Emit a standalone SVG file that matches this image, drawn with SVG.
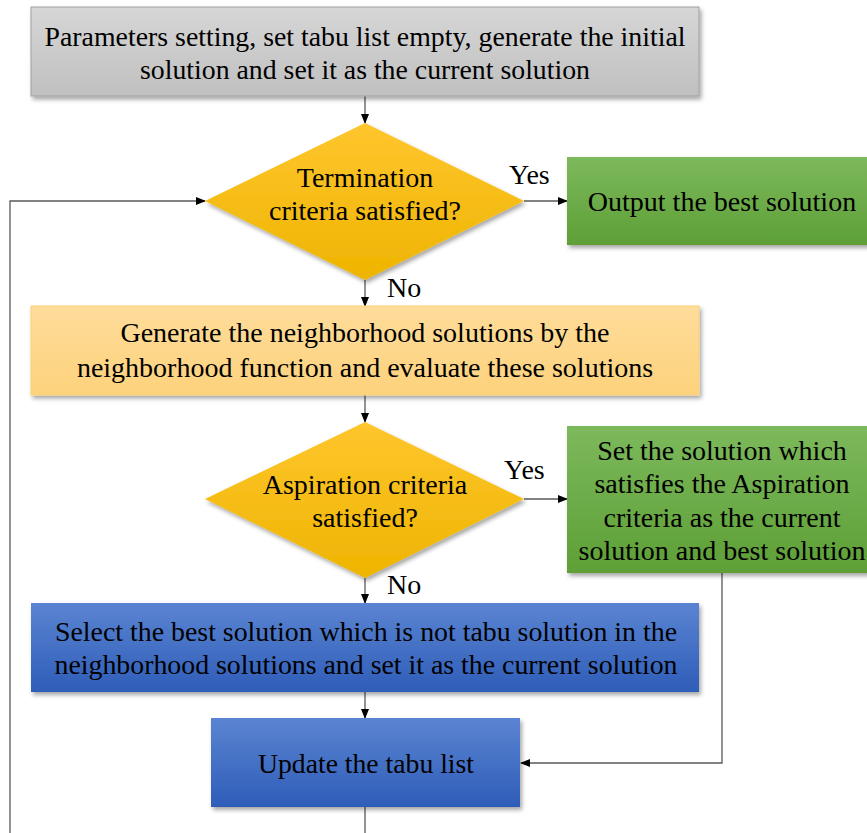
<svg xmlns="http://www.w3.org/2000/svg" width="867" height="833" viewBox="0 0 867 833">
<defs>
<linearGradient id="gGray" x1="0" y1="0" x2="0" y2="1"><stop offset="0" stop-color="#d6d6d6"/><stop offset="1" stop-color="#c0c0c0"/></linearGradient>
<linearGradient id="gGold" x1="0" y1="0" x2="0" y2="1"><stop offset="0" stop-color="#ffc62e"/><stop offset="1" stop-color="#eeb400"/></linearGradient>
<linearGradient id="gGreen" x1="0" y1="0" x2="0" y2="1"><stop offset="0" stop-color="#7cb95c"/><stop offset="1" stop-color="#5e9f36"/></linearGradient>
<linearGradient id="gOrange" x1="0" y1="0" x2="0" y2="1"><stop offset="0" stop-color="#fedc9a"/><stop offset="1" stop-color="#fdd27c"/></linearGradient>
<linearGradient id="gBlue" x1="0" y1="0" x2="0" y2="1"><stop offset="0" stop-color="#5b84d2"/><stop offset="1" stop-color="#2e5db8"/></linearGradient>
<filter id="sh" x="-5%" y="-5%" width="115%" height="125%"><feDropShadow dx="2" dy="3" stdDeviation="2" flood-color="#000" flood-opacity="0.35"/></filter>
<marker id="arr" markerWidth="10" markerHeight="8" refX="9" refY="4" orient="auto" markerUnits="userSpaceOnUse"><path d="M0,0 L10,4 L0,8 Z" fill="#000"/></marker>
<style>
text{font-family:"Liberation Serif","Times New Roman",serif;font-size:28px;fill:#000;text-anchor:middle}
.lbl{text-anchor:start}
.c{fill:none;stroke:#595959;stroke-width:1.3}
</style>
</defs>
<g id="connectors">
<line class="c" x1="365" y1="96" x2="365" y2="123" marker-end="url(#arr)"/>
<line class="c" x1="524" y1="201" x2="567" y2="201" marker-end="url(#arr)"/>
<line class="c" x1="365" y1="280" x2="365" y2="306" marker-end="url(#arr)"/>
<line class="c" x1="365" y1="395" x2="365" y2="422" marker-end="url(#arr)"/>
<line class="c" x1="524" y1="499" x2="567" y2="499" marker-end="url(#arr)"/>
<line class="c" x1="365" y1="578" x2="365" y2="603" marker-end="url(#arr)"/>
<line class="c" x1="365" y1="692" x2="365" y2="718" marker-end="url(#arr)"/>
<polyline class="c" points="722,573 722,763 521,763" marker-end="url(#arr)"/>
<line class="c" x1="365" y1="807" x2="365" y2="833"/>
<polyline class="c" points="10,833 10,201 205,201" marker-end="url(#arr)"/>
<text class="lbl" x="509" y="184">Yes</text>
<text class="lbl" x="387" y="297">No</text>
<text class="lbl" x="504" y="479">Yes</text>
<text class="lbl" x="387" y="594">No</text>
</g>
<g id="init">
<rect x="31" y="7" width="668" height="89" fill="url(#gGray)" stroke="#a0a0a0" stroke-width="1" filter="url(#sh)"/>
<text x="365" y="46" textLength="641" lengthAdjust="spacingAndGlyphs">Parameters setting, set tabu list empty, generate the initial</text>
<text x="365" y="79" textLength="450" lengthAdjust="spacingAndGlyphs">solution and set it as the current solution</text>
</g>
<g id="termination">
<polygon points="365,123 524,201 365,280 205,201" fill="url(#gGold)" filter="url(#sh)"/>
<text x="365" y="187">Termination</text>
<text x="365" y="220">criteria satisfied?</text>
</g>
<g id="output">
<rect x="567" y="157" width="305" height="88" fill="url(#gGreen)" filter="url(#sh)"/>
<text x="722" y="211">Output the best solution</text>
</g>
<g id="generate">
<rect x="31" y="306" width="668" height="89" fill="url(#gOrange)" stroke="#fcd27a" stroke-width="1" filter="url(#sh)"/>
<text x="365" y="342">Generate the neighborhood solutions by the</text>
<text x="365" y="377">neighborhood function and evaluate these solutions</text>
</g>
<g id="aspiration">
<polygon points="365,422 524,499 365,578 205,499" fill="url(#gGold)" filter="url(#sh)"/>
<text x="365" y="494">Aspiration criteria</text>
<text x="365" y="527">satisfied?</text>
</g>
<g id="setbest">
<rect x="567" y="426" width="305" height="147" fill="url(#gGreen)" filter="url(#sh)"/>
<text x="722" y="460">Set the solution which</text>
<text x="722" y="493">satisfies the Aspiration</text>
<text x="722" y="527">criteria as the current</text>
<text x="722" y="560">solution and best solution</text>
</g>
<g id="select">
<rect x="31" y="603" width="668" height="89" fill="url(#gBlue)" filter="url(#sh)"/>
<text x="366" y="641" textLength="622" lengthAdjust="spacingAndGlyphs">Select the best solution which is not tabu solution in the</text>
<text x="366" y="674" textLength="623" lengthAdjust="spacingAndGlyphs">neighborhood solutions and set it as the current solution</text>
</g>
<g id="update">
<rect x="211" y="718" width="309" height="89" fill="url(#gBlue)" filter="url(#sh)"/>
<text x="366" y="773" textLength="216" lengthAdjust="spacingAndGlyphs">Update the tabu list</text>
</g>
</svg>
